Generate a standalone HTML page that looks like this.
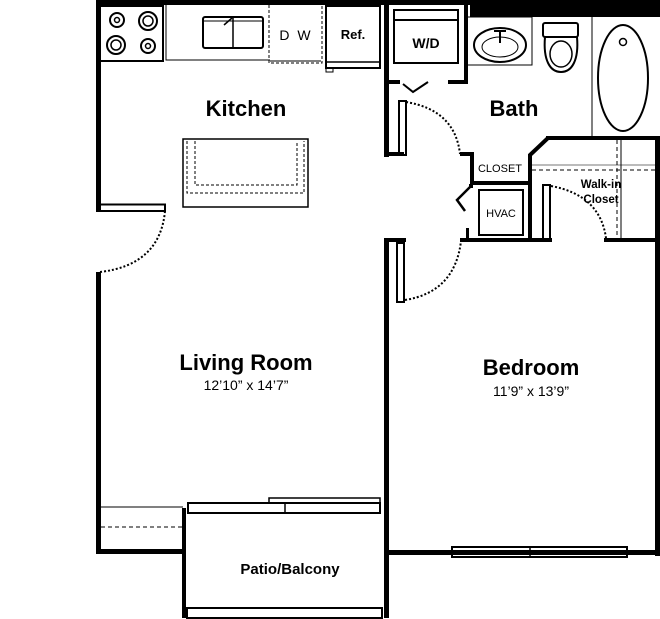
<!DOCTYPE html>
<html><head><style>body{margin:0;background:#fff}svg{display:block}text{font-family:"Liberation Sans",sans-serif;fill:#000}</style></head>
<body>
<svg width="660" height="619" viewBox="0 0 660 619" xmlns="http://www.w3.org/2000/svg">
<g fill="#000">
<!-- top walls -->
<rect x="96" y="0" width="374" height="5"/>
<rect x="470" y="0" width="190" height="17"/>
<!-- left walls -->
<rect x="96" y="0" width="5" height="212"/>
<rect x="96" y="272" width="5" height="281"/>
<rect x="96" y="549" width="90" height="5"/>
<!-- kitchen/bath wall -->
<rect x="384" y="0" width="5" height="157"/>
<rect x="384" y="152" width="20" height="4"/>
<rect x="384" y="80" width="16" height="4"/>
<rect x="448" y="80" width="20" height="4"/>
<rect x="464" y="0" width="4" height="84"/>
<!-- closet walls -->
<rect x="460" y="152" width="14" height="4"/>
<rect x="470" y="152" width="4" height="33"/>
<rect x="470" y="181" width="62" height="4"/>
<rect x="528" y="155" width="4" height="87"/>
<rect x="546" y="136" width="114" height="4"/>
<rect x="469" y="184" width="4" height="4"/>
<rect x="460" y="238" width="92" height="4"/>
<rect x="466" y="228" width="3" height="12"/>
<rect x="604" y="238" width="56" height="4"/>
<rect x="655" y="136" width="5" height="420"/>
<!-- bedroom walls -->
<rect x="384" y="238" width="22" height="4"/>
<rect x="384" y="238" width="5" height="380"/>
<rect x="384" y="550" width="276" height="5"/>
<!-- patio walls -->
<rect x="182" y="508" width="4" height="110"/>
</g>
<g fill="none" stroke="#000">
<polyline points="530,157 530,155 548,138" stroke-width="4"/>
<polyline points="471,186 457,200 465,211" stroke-width="2.5"/>
<!-- kitchen stub + door -->
<rect x="100" y="204.5" width="65" height="6.5" stroke-width="2"/>
<path d="M165 211 Q160 265 100 272" stroke-width="2" stroke-dasharray="2,2"/>
<!-- stove -->
<rect x="100" y="6" width="63" height="55" stroke-width="2"/>
<circle cx="117" cy="20" r="7" stroke-width="2"/><circle cx="117" cy="20" r="2.5" stroke-width="1.5"/>
<circle cx="148" cy="21" r="9" stroke-width="2"/><circle cx="148" cy="21" r="5" stroke-width="1.5"/>
<circle cx="116" cy="45" r="9" stroke-width="2"/><circle cx="116" cy="45" r="5" stroke-width="1.5"/>
<circle cx="148" cy="46" r="7" stroke-width="2"/><circle cx="148" cy="46" r="2.5" stroke-width="1.5"/>
<polyline points="166,5 166,60 270,60" stroke-width="1"/>
<rect x="203" y="17" width="60" height="31" rx="2" stroke-width="2"/>
<line x1="233" y1="18" x2="233" y2="48" stroke-width="1.5"/>
<line x1="204" y1="21" x2="262" y2="21" stroke-width="1"/>
<line x1="224" y1="25" x2="232" y2="18" stroke-width="1.5"/>
<rect x="269" y="4" width="53" height="59" stroke-width="1" stroke-dasharray="3,2"/>
<line x1="270" y1="61" x2="321" y2="61" stroke-width="1"/>
<rect x="326" y="6" width="54" height="62" stroke-width="2"/>
<line x1="326" y1="62" x2="380" y2="62" stroke-width="1.5"/>
<rect x="326" y="68" width="7" height="4" stroke-width="1"/>
<!-- island -->
<rect x="183" y="139" width="125" height="68" stroke-width="1.5"/>
<path d="M187 141 V193 H304 V141" stroke-width="1" stroke-dasharray="3,2"/>
<path d="M195 141 V185 H297 V141" stroke-width="1" stroke-dasharray="3,2"/>
<!-- W/D -->
<rect x="394" y="10" width="64" height="53" stroke-width="2"/>
<line x1="394" y1="20" x2="458" y2="20" stroke-width="2"/>
<polyline points="403,84 413,92 428,82" stroke-width="2"/>
<!-- sink -->
<polyline points="468,17 532,17 532,65 468,65" stroke-width="1"/>
<ellipse cx="500" cy="45" rx="26" ry="17" stroke-width="2"/>
<ellipse cx="500" cy="47" rx="18" ry="10" stroke-width="1"/>
<path d="M494 31 H506 M500 31 V43" stroke-width="2"/>
<!-- toilet -->
<rect x="543" y="23" width="35" height="14" rx="2" stroke-width="2"/>
<path d="M545 37 C543 60 550 72 561 72 C572 72 579 60 577 37" stroke-width="2"/>
<ellipse cx="561" cy="54" rx="11" ry="13" stroke-width="1.5"/>
<!-- tub -->
<line x1="592" y1="17" x2="592" y2="136" stroke-width="1"/>
<ellipse cx="623" cy="78" rx="25" ry="53" stroke-width="2"/>
<circle cx="623" cy="42" r="3.5" stroke-width="1.5"/>
<!-- bath door -->
<rect x="399" y="101" width="7" height="54" stroke-width="2"/>
<path d="M406 102 Q455 110 460 154" stroke-width="2" stroke-dasharray="2,2"/>
<!-- walk-in -->
<line x1="532" y1="165" x2="655" y2="165" stroke="#777" stroke-width="1"/>
<line x1="532" y1="170" x2="655" y2="170" stroke-width="1" stroke-dasharray="4,3"/>
<line x1="617" y1="140" x2="617" y2="238" stroke-width="1" stroke-dasharray="4,3"/>
<line x1="621" y1="140" x2="621" y2="238" stroke-width="1"/>
<rect x="543" y="185" width="7" height="54" stroke-width="2"/>
<path d="M551 186 Q600 195 606 238" stroke-width="2" stroke-dasharray="2,2"/>
<!-- HVAC -->
<rect x="479" y="190" width="44" height="45" stroke-width="2"/>
<!-- bedroom door -->
<rect x="397" y="243" width="7" height="59" stroke-width="2"/>
<path d="M405 300 Q455 292 461 241" stroke-width="2" stroke-dasharray="2,2"/>
<!-- bottom left -->
<line x1="101" y1="507" x2="183" y2="507" stroke-width="1"/>
<line x1="101" y1="527" x2="182" y2="527" stroke-width="1" stroke-dasharray="4,3"/>
<!-- patio doors -->
<rect x="188" y="503" width="192" height="10" stroke-width="2"/>
<line x1="285" y1="503" x2="285" y2="513" stroke-width="1.5"/>
<rect x="269" y="498" width="111" height="5" stroke-width="1.5"/>
<rect x="187" y="608" width="195" height="10" stroke-width="2"/>
<!-- bedroom window -->
<rect x="452" y="547" width="175" height="10" stroke-width="2"/>
<line x1="530" y1="547" x2="530" y2="557" stroke-width="1.5"/>
<line x1="452" y1="552" x2="627" y2="552" stroke-width="1"/>
</g>
<g text-anchor="middle" font-weight="bold">
<text x="296" y="40" font-size="14" font-weight="normal" letter-spacing="2">D W</text>
<text x="353" y="39" font-size="13">Ref.</text>
<text x="426" y="48" font-size="14">W/D</text>
<text x="246" y="116" font-size="22">Kitchen</text>
<text x="514" y="116" font-size="22">Bath</text>
<text x="500" y="172" font-size="11" font-weight="normal">CLOSET</text>
<text x="501" y="217" font-size="11" font-weight="normal">HVAC</text>
<text x="601" y="188" font-size="11.5">Walk-in</text>
<text x="601" y="203" font-size="11.5">Closet</text>
<text x="246" y="370" font-size="22">Living Room</text>
<text x="246" y="390" font-size="14" font-weight="normal">12’10” x 14’7”</text>
<text x="531" y="375" font-size="22">Bedroom</text>
<text x="531" y="396" font-size="14" font-weight="normal">11’9” x 13’9”</text>
<text x="290" y="574" font-size="15">Patio/Balcony</text>
</g>
</svg>
</body></html>
